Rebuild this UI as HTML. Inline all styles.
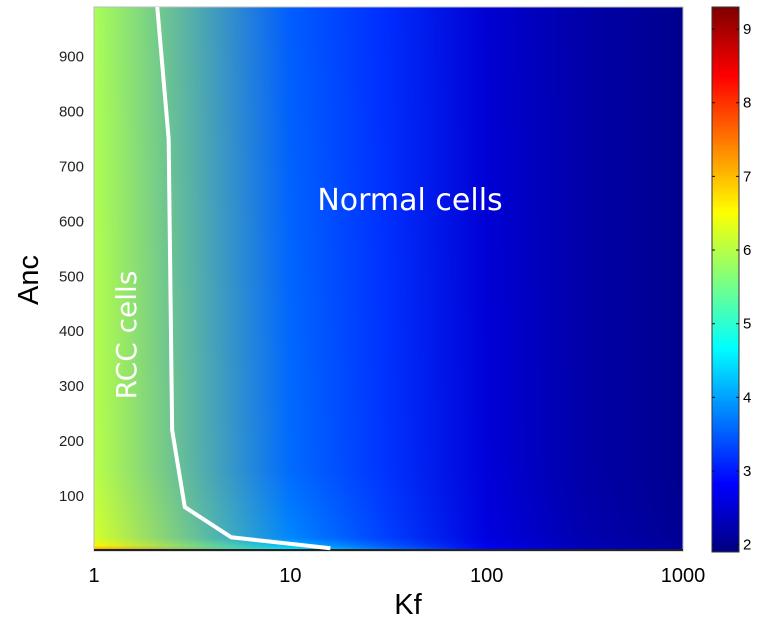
<!DOCTYPE html>
<html><head><meta charset="utf-8"><style>
body{margin:0;background:#fff;width:776px;height:622px;overflow:hidden;font-family:"Liberation Sans",sans-serif;}
</style></head><body>
<svg id="svg" width="776" height="622" xmlns="http://www.w3.org/2000/svg">
<foreignObject x="94" y="7" width="589" height="544">
<canvas id="hm" width="589" height="544" xmlns="http://www.w3.org/1999/xhtml" style="display:block"></canvas>
</foreignObject>
<rect x="94" y="7" width="589" height="544" fill="none" stroke="#bbb" stroke-width="1"/>
<line x1="94" y1="550" x2="683" y2="550" stroke="#222" stroke-width="2"/>
<g id="xt"></g>
<g id="yt"></g>
<polyline id="boundary" fill="none" stroke="#fff" stroke-width="4"/>
<text x="410" y="210" fill="#fff" font-size="30" text-anchor="middle" font-family="DejaVu Sans, sans-serif">Normal cells</text>
<text transform="translate(136,335) rotate(-90)" fill="#fff" font-size="28" text-anchor="middle" font-family="DejaVu Sans, sans-serif">RCC cells</text>
<text transform="translate(38,280) rotate(-90)" fill="#000" font-size="29" text-anchor="middle">Anc</text>
<text x="408" y="614" fill="#000" font-size="29" text-anchor="middle">Kf</text>
<foreignObject x="712" y="7" width="27" height="545">
<canvas id="cb" width="27" height="545" xmlns="http://www.w3.org/1999/xhtml" style="display:block"></canvas>
</foreignObject>
<rect x="712" y="7" width="27" height="545" fill="none" stroke="#333" stroke-width="1"/>
<g id="ct"></g>
</svg>
<script>
const kfNodes=[1,10,30,100,300,1000];
const ancNodes=[0,10,25,150,1000];
const zRow0=[7.6,4.8,3.8,2.9,2.4,2.2];
const zRow10=[6.6,4.2,3.5,2.7,2.3,2.1];
const zRow25=[6.2,3.8,3.3,2.6,2.25,2.05];
const zRow150=[6.0,3.6,3.2,2.55,2.2,2.0];
const zRow1000=[5.9,3.5,3.15,2.5,2.2,2.0];
const zRows=[zRow0,zRow10,zRow25,zRow150,zRow1000];
const xTicks=[1,10,100,1000];
const yTicks=[100,200,300,400,500,600,700,800,900];
const cTicks=[2,3,4,5,6,7,8,9];
const boundaryKf=[2.1,2.4,2.5,2.9,5,16];
const boundaryAnc=[990,750,220,80,25,5];
const cMin=1.9,cMax=9.3;
const X0=94,X1=683,Y0=551,Y1=7,AMAX=990;
const xs=k=>X0+(Math.log10(k)/3)*(X1-X0);
const ys=a=>Y0-(a/AMAX)*(Y0-Y1);
const NS='http://www.w3.org/2000/svg';
function jet(v){const t=Math.max(0,Math.min(1,(v-cMin)/(cMax-cMin)));const c=x=>Math.max(0,Math.min(1,x));
return [c(1.5-Math.abs(4*t-3))*255,c(1.5-Math.abs(4*t-2))*255,c(1.5-Math.abs(4*t-1))*255];}
const nodeCol=zRows.map(r=>r.map(jet));
const hm=document.getElementById('hm'),ctx=hm.getContext('2d');
const W=hm.width,H=hm.height,img=ctx.createImageData(W,H);
const lk=kfNodes.map(k=>Math.log10(k));
function seg(arr,v){let i=0;while(i<arr.length-2&&v>arr[i+1])i++;let f=(v-arr[i])/(arr[i+1]-arr[i]);return [i,Math.max(0,Math.min(1,f))];}
for(let py=0;py<H;py++){const a=(Y0-(py+Y1))/(Y0-Y1)*AMAX;const [j,fy]=seg(ancNodes,a);
for(let px=0;px<W;px++){const l=(px/(X1-X0))*3;const [i,fx]=seg(lk,l);
const c00=nodeCol[j][i],c10=nodeCol[j][i+1],c01=nodeCol[j+1][i],c11=nodeCol[j+1][i+1];const o=(py*W+px)*4;
for(let k=0;k<3;k++){img.data[o+k]=(c00[k]*(1-fx)+c10[k]*fx)*(1-fy)+(c01[k]*(1-fx)+c11[k]*fx)*fy;}img.data[o+3]=255;}}
ctx.putImageData(img,0,0);
const cb=document.getElementById('cb'),cc=cb.getContext('2d');
for(let py=0;py<cb.height;py++){const v=cMax-(py/cb.height)*(cMax-cMin);const c=jet(v);cc.fillStyle=`rgb(${c[0]|0},${c[1]|0},${c[2]|0})`;cc.fillRect(0,py,cb.width,1);}
const cys=v=>7+(cMax-v)/(cMax-cMin)*545;
const ct=document.getElementById('ct');
cTicks.forEach(v=>{const y=cys(v);
[[712,715],[736,739]].forEach(p=>{const l=document.createElementNS(NS,'line');l.setAttribute('x1',p[0]);l.setAttribute('x2',p[1]);l.setAttribute('y1',y);l.setAttribute('y2',y);l.setAttribute('stroke','#111');

ct.appendChild(l);});
const t=document.createElementNS(NS,'text');t.setAttribute('x',743);t.setAttribute('y',y+5);t.setAttribute('font-size','15');t.textContent=v;

ct.appendChild(t);});
const xt=document.getElementById('xt');
xTicks.forEach(v=>{const t=document.createElementNS(NS,'text');t.setAttribute('x',xs(v));t.setAttribute('y',582);t.setAttribute('font-size','20');t.setAttribute('text-anchor','middle');t.textContent=v;

xt.appendChild(t);});
const yt=document.getElementById('yt');
yTicks.forEach(v=>{const t=document.createElementNS(NS,'text');t.setAttribute('x',84);t.setAttribute('y',ys(v)+5);t.setAttribute('font-size','15');t.setAttribute('text-anchor','end');t.setAttribute('fill','#222');t.textContent=v;

yt.appendChild(t);});
document.getElementById('boundary').setAttribute('points',boundaryKf.map((k,i)=>xs(k)+','+ys(boundaryAnc[i])).join(' '));
</script>
</body></html>
